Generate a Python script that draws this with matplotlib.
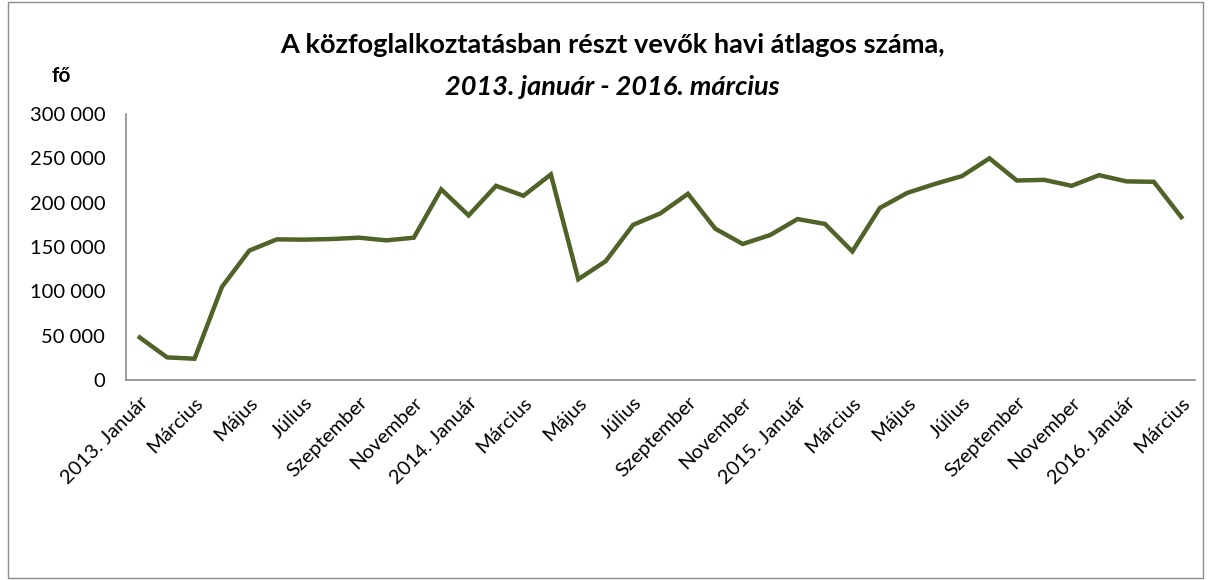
import numpy as np
import matplotlib.pyplot as plt
from matplotlib.patches import Rectangle

plt.rcParams['font.family'] = ['Lato', 'DejaVu Sans']

# monthly average, 2013 Jan .. 2016 Mar
values = [48000, 25500, 24000, 105000, 146000, 158600, 158300, 159000, 160500, 157500,
          160500, 215000, 185600, 219000, 207800, 231800, 113600, 134000, 175000, 188000,
          210000, 170600, 153400, 163500, 181500, 176000, 145000, 194000, 211000, 221000,
          230000, 250000, 225000, 225700, 219000, 231000, 224000, 223500, 183700]
tick_labels = ['2013. Január', 'Március', 'Május', 'Július', 'Szeptember', 'November',
               '2014. Január', 'Március', 'Május', 'Július', 'Szeptember', 'November',
               '2015. Január', 'Március', 'Május', 'Július', 'Szeptember', 'November',
               '2016. Január', 'Március']
yticks = [0, 50000, 100000, 150000, 200000, 250000, 300000]

fig = plt.figure(figsize=(12.12, 5.8), dpi=100)
ax = fig.add_axes([126/1212, 1-380/580, (1195-126)/1212, (380-114)/580])

x = np.arange(len(values))
ax.plot(x, values, color='#4F6228', lw=3.2, solid_joinstyle='miter')

ax.set_xlim(-0.5, len(values)-0.5)
ax.set_ylim(0, 300000)
ax.set_yticks(yticks)
ax.set_yticklabels([f'{v:,}'.replace(',', ' ') for v in yticks], fontsize=14.5)
ax.set_xticks(x[::2])
ax.set_xticklabels(tick_labels, rotation=45, ha='right', rotation_mode='anchor', fontsize=14.5)
ax.tick_params(axis='y', length=0, pad=15)
ax.tick_params(axis='x', length=0, pad=10)

for s in ['top', 'right']:
    ax.spines[s].set_visible(False)
for s in ['left', 'bottom']:
    ax.spines[s].set_color('#8c8c8c')
    ax.spines[s].set_linewidth(1.2)

fig.text(612/1212, 1-45/580, 'A közfoglalkoztatásban részt vevők havi átlagos száma,',
         ha='center', va='center', fontsize=19.5, fontweight='bold')
fig.text(612/1212, 1-87/580, '2013. január - 2016. március',
         ha='center', va='center', fontsize=19.5, fontweight='bold', style='italic')
fig.text(61/1212, 1-76/580, 'fő', ha='center', va='center', fontsize=15, fontweight='bold')

fig.patches.append(Rectangle((8/1212, 0.003), (1203-8)/1212, 0.994, transform=fig.transFigure,
                             fill=False, edgecolor='#8c8c8c', lw=1))

fig.savefig('out.png', dpi=100)
